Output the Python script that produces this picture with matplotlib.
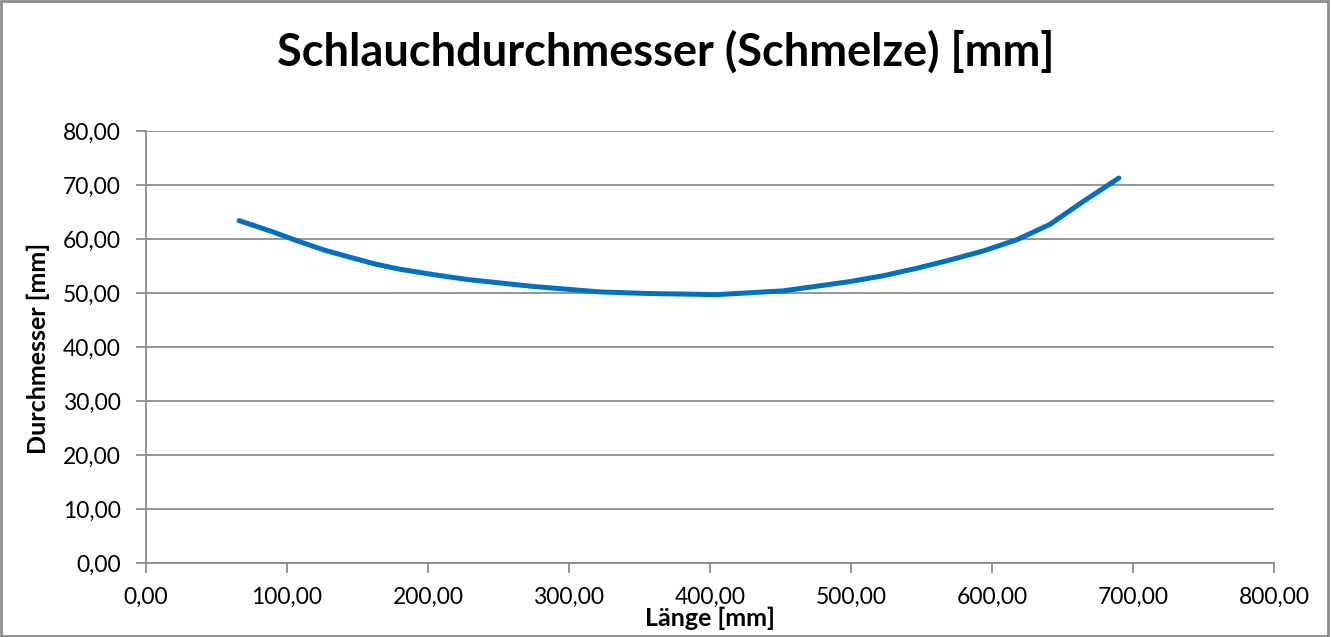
import matplotlib
matplotlib.use("Agg")
import matplotlib.pyplot as plt
from matplotlib.ticker import FuncFormatter, MultipleLocator
from matplotlib.patches import Rectangle

# Länge [mm] und Durchmesser [mm]
laenge = [66, 88, 109, 127, 145, 162, 180, 204, 228, 275, 322, 357, 405, 452,
          499, 523, 547, 570, 594, 618, 641, 665, 690]
durchmesser = [63.4, 61.5, 59.5, 57.9, 56.6, 55.4, 54.4, 53.4, 52.5, 51.2, 50.2, 49.9, 49.7, 50.4,
               52.1, 53.2, 54.6, 56.1, 57.8, 59.9, 62.7, 67.0, 71.3]

plt.rcParams['font.family'] = ['Lato', 'DejaVu Sans']

fig = plt.figure(figsize=(13.31, 6.37), dpi=100)
ax = fig.add_axes([146/1331, 1-563/637, (1274-146)/1331, (563-131)/637])

ax.plot(laenge, durchmesser, color='#0070C0', linewidth=3.6,
        solid_capstyle='round', solid_joinstyle='round')

ax.set_xlim(0, 800)
ax.set_ylim(0, 80)
ax.xaxis.set_major_locator(MultipleLocator(100))
ax.yaxis.set_major_locator(MultipleLocator(10))
komma = FuncFormatter(lambda v, p: f"{v:.2f}".replace('.', ','))
ax.xaxis.set_major_formatter(komma)
ax.yaxis.set_major_formatter(komma)

ax.grid(axis='y', color='#8c8c8c', linewidth=1.3)
ax.set_axisbelow(True)
for s in ['top', 'right']:
    ax.spines[s].set_visible(False)
for s in ['left', 'bottom']:
    ax.spines[s].set_color('#8c8c8c')
    ax.spines[s].set_linewidth(1.3)
ax.tick_params(colors='#8c8c8c', width=1.3, length=7, labelcolor='black', labelsize=16.5)
ax.tick_params(axis='y', pad=11)
ax.tick_params(axis='x', pad=10)

fig.text(710/1331, 1-618/637, 'Länge [mm]', ha='center', va='center',
         fontsize=18, fontweight='bold')
fig.text(38/1331, 1-348/637, 'Durchmesser [mm]', ha='center', va='center',
         rotation=90, fontsize=18, fontweight='bold')

fig.text(666/1331, 1-52/637, 'Schlauchdurchmesser (Schmelze) [mm]', ha='center', va='center',
         fontsize=32.5, fontweight='bold')

fig.patches.append(Rectangle((0.001, 0.002), 0.997, 0.996, transform=fig.transFigure,
                             fill=False, edgecolor='#8c8c8c', linewidth=2))

fig.savefig('out.png', dpi=100)
